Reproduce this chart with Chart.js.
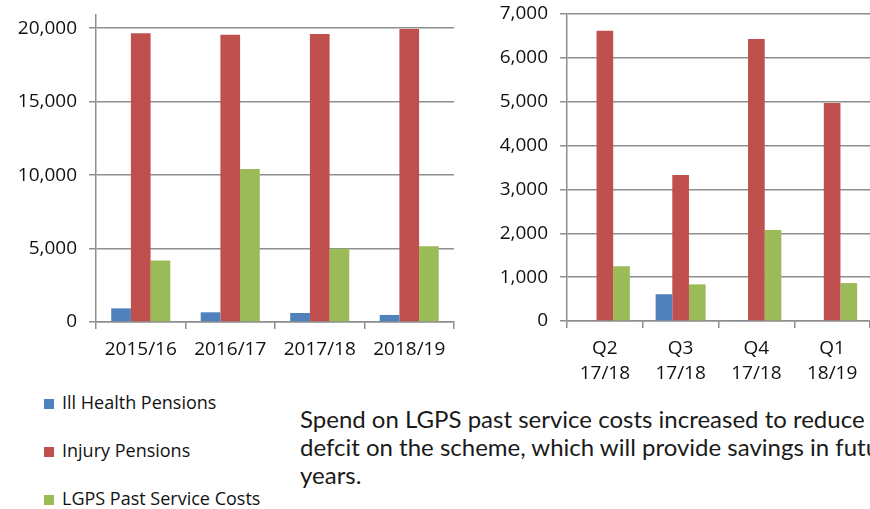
<!DOCTYPE html>
<html lang="en">
<head>
<meta charset="UTF-8">
<title>Pension costs</title>
<script src="https://cdn.jsdelivr.net/npm/chart.js"></script>
<style>
  body { margin: 0; width: 870px; height: 509px; overflow: hidden; background: #fff; position: relative; }
  .box { position: absolute; }
  .legend-item { position: absolute; left: 44px; font: 18px "Open Sans", sans-serif; line-height: 24px; color: #111; white-space: nowrap; }
  .legend-item span { display: inline-block; width: 10px; height: 10px; margin-right: 8px; vertical-align: 0px; }
  .note { position: absolute; left: 300px; top: 405px; font: 24px Lato, sans-serif; line-height: 28px; color: #1a1a1a; white-space: nowrap; }
</style>
</head>
<body>
<div class="box" style="left:0;top:0"><canvas id="annualChart" width="460" height="375"></canvas></div>
<div class="box" style="left:480px;top:0"><canvas id="quarterChart" width="390" height="395"></canvas></div>

<div class="legend-item" style="top:390px"><span style="background:#4F81BD"></span>Ill Health Pensions</div>
<div class="legend-item" style="top:438px"><span style="background:#C0504D"></span>Injury Pensions</div>
<div class="legend-item" style="top:486px"><span style="background:#9BBB59"></span>LGPS Past Service Costs</div>

<div class="note">Spend on LGPS past service costs increased to reduce the<br>defcit on the scheme, which will provide savings in future<br>years.</div>

<script>
// series names / colours
const seriesNames = ['Ill Health Pensions', 'Injury Pensions', 'LGPS Past Service Costs'];
const seriesColours = ['#4F81BD', '#C0504D', '#9BBB59'];

// annual figures
const annualLabels = ['2015/16', '2016/17', '2017/18', '2018/19'];
const annualIllHealth = [930, 660, 615, 480];
const annualInjury = [19660, 19550, 19610, 19950];
const annualLgps = [4180, 10410, 4980, 5160];
const annualTicks = [0, 5000, 10000, 15000, 20000];

// quarterly figures
const quarterLabels = [['Q2', '17/18'], ['Q3', '17/18'], ['Q4', '17/18'], ['Q1', '18/19']];
const quarterIllHealth = [0, 610, 10, 0];
const quarterInjury = [6620, 3330, 6430, 4970];
const quarterLgps = [1250, 835, 2075, 865];
const quarterTicks = [0, 1000, 2000, 3000, 4000, 5000, 6000, 7000];

const gridColour = '#8e8e8e';
const tickFont = { family: 'Open Sans', size: 19 };

function makeDatasets(a, b, c) {
    return [a, b, c].map((vals, i) => ({
        label: seriesNames[i],
        data: vals,
        backgroundColor: seriesColours[i],
        borderWidth: 0,
        categoryPercentage: 0.66,
        barPercentage: 1
    }));
}

function makeChart(id, labels, datasets, yMax, tickValues, yWidth, xHeight, padding, lineHeight, xPad) {
    const ctx = document.getElementById(id).getContext('2d');
    return new Chart(ctx, {
        type: 'bar',
        data: { labels: labels, datasets: datasets },
        options: {
            responsive: false,
            animation: false,
            devicePixelRatio: 1,
            layout: { padding: padding },
            plugins: { legend: { display: false }, tooltip: { enabled: false } },
            scales: {
                x: {
                    offset: true,
                    grid: { offset: true, drawOnChartArea: false, tickLength: 7, color: gridColour, lineWidth: 1.5 },
                    border: { color: gridColour, width: 1.5 },
                    ticks: { color: '#111', font: Object.assign({ lineHeight: lineHeight }, tickFont), padding: xPad, maxRotation: 0, autoSkip: false },
                    afterFit: (s) => { s.height = xHeight; }
                },
                y: {
                    min: 0,
                    max: yMax,
                    grid: { tickLength: 7, color: gridColour, lineWidth: 1.5 },
                    border: { color: gridColour, width: 1.5 },
                    ticks: { color: '#111', font: tickFont, padding: 12 },
                    afterBuildTicks: (s) => { s.ticks = tickValues.map(v => ({ value: v })); },
                    afterFit: (s) => { s.width = yWidth; s.paddingTop = 0; s.paddingBottom = 0; }
                }
            }
        }
    });
}

makeChart('annualChart', annualLabels, makeDatasets(annualIllHealth, annualInjury, annualLgps),
    20900, annualTicks, 96, 53, { top: 15, right: 6, bottom: 0, left: 0 }, 1.2, 9);
makeChart('quarterChart', quarterLabels, makeDatasets(quarterIllHealth, quarterInjury, quarterLgps),
    7000, quarterTicks, 87, 74, { top: 14, right: 0, bottom: 0, left: 0 }, 1.32, 8);
</script>
</body>
</html>
